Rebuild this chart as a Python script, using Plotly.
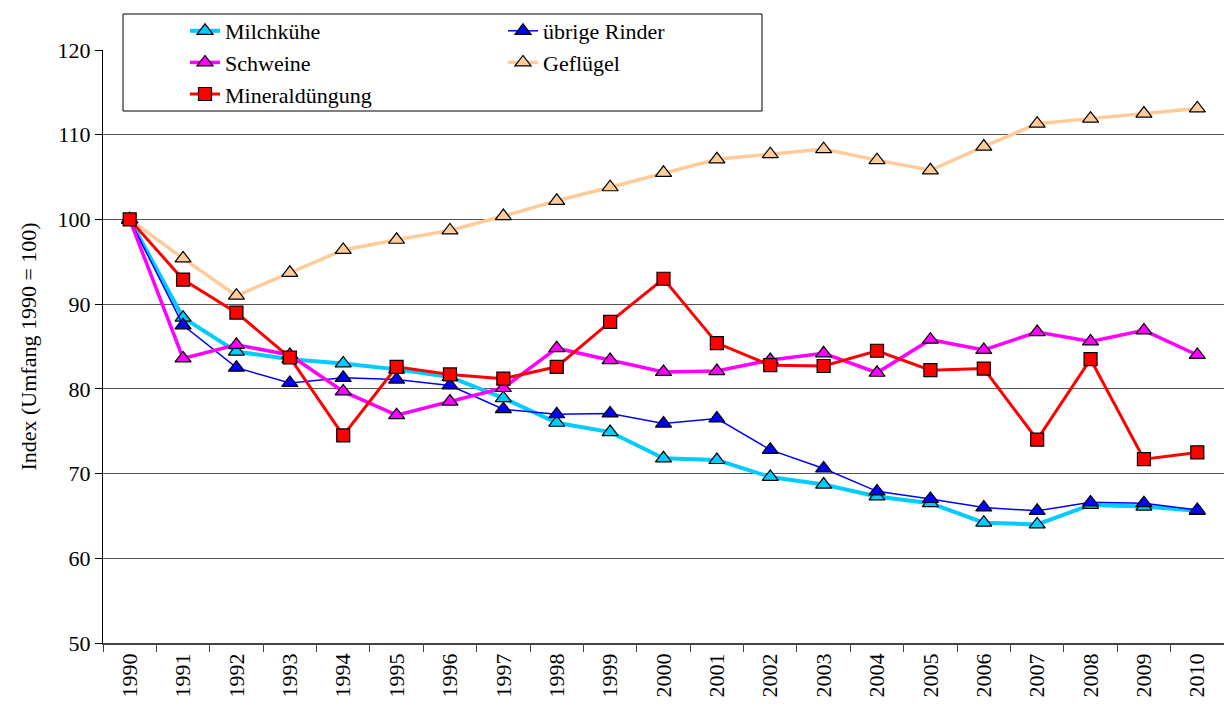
import plotly.graph_objects as go

years = [str(y) for y in range(1990, 2011)]

milchkuehe = [100, 88.4, 84.4, 83.5, 83.0, 82.3, 81.4, 78.9, 76.0, 74.9, 71.8,
              71.6, 69.6, 68.7, 67.3, 66.5, 64.2, 64.0, 66.3, 66.1, 65.6]
uebrige_rinder = [100, 87.5, 82.5, 80.7, 81.3, 81.1, 80.4, 77.6, 77.0, 77.1, 75.9,
                  76.5, 72.8, 70.6, 67.9, 67.0, 66.0, 65.6, 66.6, 66.5, 65.7]
schweine = [100, 83.6, 85.2, 84.0, 79.7, 76.9, 78.5, 80.1, 84.8, 83.4, 82.0,
            82.1, 83.4, 84.2, 81.9, 85.8, 84.6, 86.7, 85.6, 86.9, 84.0]
gefluegel = [100, 95.4, 91.0, 93.7, 96.4, 97.6, 98.7, 100.4, 102.2, 103.8, 105.5,
             107.1, 107.7, 108.3, 107.0, 105.8, 108.6, 111.3, 111.9, 112.5, 113.1]
mineralduengung = [100, 92.9, 89.0, 83.7, 74.5, 82.6, 81.7, 81.2, 82.6, 87.9, 93.0,
                   85.4, 82.8, 82.7, 84.5, 82.2, 82.4, 74.0, 83.5, 71.7, 72.5]

FONT = "Liberation Serif"
W, H = 1224, 709
ML, MR, MT, MB = 103, 0, 50, 66
PW, PH = W - ML - MR, H - MT - MB


def px_x(x):
    return (x - ML) / PW


def px_y(y):
    return (H - MB - y) / PH


series = [
    ("Milchkühe", milchkuehe, "#00CCFF", 4, "triangle-up", "legend"),
    ("übrige Rinder", uebrige_rinder, "#0000FF", 1.5, "triangle-up", "legend2"),
    ("Schweine", schweine, "#FF00FF", 3.5, "triangle-up", "legend"),
    ("Geflügel", gefluegel, "#FFCC99", 3.5, "triangle-up", "legend2"),
    ("Mineraldüngung", mineralduengung, "#FF0000", 3, "square", "legend"),
]

fig = go.Figure()
for name, vals, color, lw, sym, leg in series:
    fig.add_trace(go.Scatter(
        x=years, y=vals, name=name, mode="lines+markers",
        line=dict(color=color, width=lw),
        marker=dict(symbol=sym, size=14 if sym != "square" else 13, color=color,
                    line=dict(color="black", width=1.2)),
        legend=leg, legendgroup=name,
    ))

fig.add_shape(type="rect", xref="paper", yref="paper",
              x0=px_x(123), x1=px_x(762), y0=px_y(111), y1=px_y(14),
              fillcolor="white", line=dict(color="black", width=1), layer="above")

legend_common = dict(
    font=dict(family=FONT, size=22, color="black"),
    bgcolor="rgba(0,0,0,0)", borderwidth=0,
    orientation="v", xanchor="left", yanchor="top",
    traceorder="grouped", tracegroupgap=0,
)

fig.update_layout(
    width=W, height=H,
    margin=dict(l=ML, r=MR, t=MT, b=MB),
    paper_bgcolor="white", plot_bgcolor="white",
    font=dict(family=FONT, size=22, color="black"),
    showlegend=True,
    legend=dict(x=px_x(185), y=px_y(10), **legend_common),
    legend2=dict(x=px_x(503), y=px_y(10), **legend_common),
    xaxis=dict(
        type="category", tickangle=-90, tickson="boundaries",
        ticks="outside", ticklen=7, tickcolor="#444", tickwidth=1,
        showline=True, linecolor="#444", linewidth=1.5,
        showgrid=False, tickfont=dict(family=FONT, size=22),
        range=[-0.5, 20.5],
    ),
    yaxis=dict(
        range=[50, 120], dtick=10, tick0=50,
        ticks="outside", ticklen=7, tickcolor="black", tickwidth=1,
        showline=True, linecolor="black", linewidth=1.2,
        showgrid=True, gridcolor="#555", gridwidth=1,
        zeroline=False, tickfont=dict(family=FONT, size=22),
        title=dict(text="Index (Umfang 1990 = 100)", font=dict(family=FONT, size=22),
                   standoff=14),
    ),
)

fig.write_html(
    "out.html",
    config={"displayModeBar": False},
    post_script="document.body.style.margin='0';document.body.style.overflow='hidden';",
)
